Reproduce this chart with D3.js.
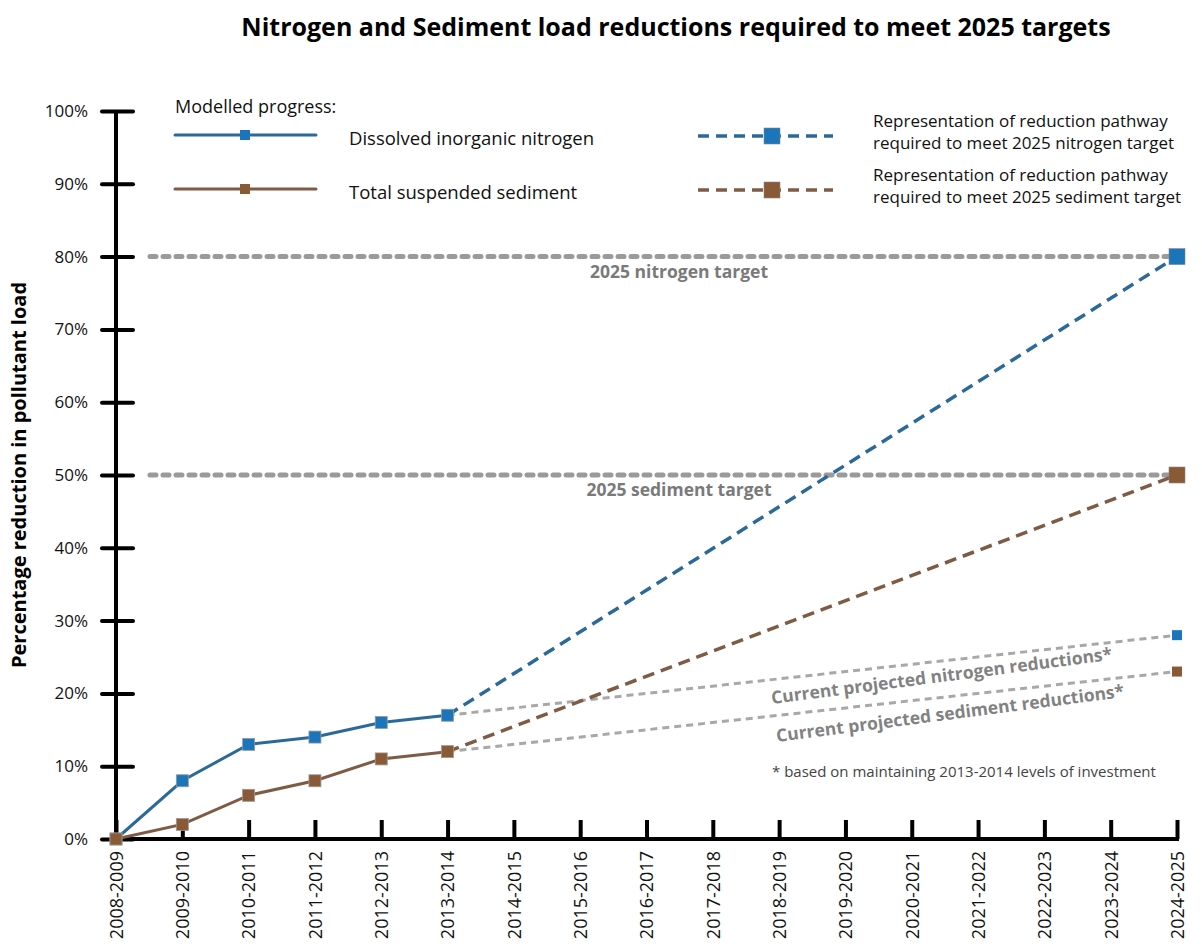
<!DOCTYPE html>
<meta charset="utf-8">
<script src="https://d3js.org/d3.v7.min.js"></script>
<style>
  body { margin: 0; background: #fff; }
  text { font-family: "Open Sans", Lato, sans-serif; }
</style>
<div id="chart"></div>
<script>

// seasons along the x axis
var years = ["2008-2009","2009-2010","2010-2011","2011-2012","2012-2013","2013-2014",
  "2014-2015","2015-2016","2016-2017","2017-2018","2018-2019","2019-2020",
  "2020-2021","2021-2022","2022-2023","2023-2024","2024-2025"];

// modelled progress (% reduction)
var nitrogen = [0, 8, 13, 14, 16, 17];
var sediment = [0, 2, 6, 8, 11, 12];

// 2025 targets and current projections
var nitrogenTarget = 80, sedimentTarget = 50;
var nitrogenProjected = 28, sedimentProjected = 23;

var yTicks = [0,10,20,30,40,50,60,70,80,90,100];

var blue = "#1b75bb", blueLine = "#2b6a98", brown = "#8a5a36", brownLine = "#7e5b44";

var svg = d3.select("#chart").append("svg")
  .attr("width", 1202)
  .attr("height", 952);

var x = d3.scalePoint().domain(years).range([116, 1177]);
var y = d3.scaleLinear().domain([0, 100]).range([839, 111]);

// title
svg.append("text")
  .attr("x", 676).attr("y", 36)
  .attr("text-anchor", "middle")
  .style("font-size", "25px").style("font-weight", "bold")
  .text("Nitrogen and Sediment load reductions required to meet 2025 targets");

// y axis label
svg.append("text")
  .attr("transform", "translate(26," + y(50) + ") rotate(-90)")
  .attr("text-anchor", "middle")
  .style("font-size", "20px").style("font-weight", "bold")
  .text("Percentage reduction in pollutant load");

// target lines
function targetLine(v, label) {
  svg.append("line")
    .attr("x1", 150).attr("x2", x("2024-2025"))
    .attr("y1", y(v)).attr("y2", y(v))
    .style("stroke", "#9a9a9a").style("stroke-width", 5)
    .style("stroke-linecap", "round")
    .style("stroke-dasharray", "6 7");
  svg.append("text")
    .attr("x", 679).attr("y", y(v) + 21)
    .attr("text-anchor", "middle")
    .style("font-size", "17.5px").style("font-weight", "bold").style("fill", "#7a7a7a")
    .text(label);
}
targetLine(nitrogenTarget, "2025 nitrogen target");
targetLine(sedimentTarget, "2025 sediment target");

// axes
var yAxis = svg.append("g")
  .attr("transform", "translate(116,0)")
  .call(d3.axisLeft(y).tickValues(yTicks).tickSizeOuter(0).tickFormat(function(d){ return d + "%"; }));
yAxis.select(".domain").remove();
yAxis.selectAll(".tick line").attr("x1", -14).attr("x2", 17)
  .style("stroke", "#000").style("stroke-width", 4).style("stroke-linecap", "round");
yAxis.selectAll(".tick text").attr("x", -28)
  .style("font-size", "17px").style("font-family", "'Open Sans', sans-serif").style("fill", "#111");
svg.append("line")
  .attr("x1", 116).attr("x2", 116).attr("y1", y(100)).attr("y2", y(0))
  .style("stroke", "#000").style("stroke-width", 4);

var xAxis = svg.append("g")
  .attr("transform", "translate(0," + y(0) + ")")
  .call(d3.axisBottom(x).tickSize(-19).tickSizeOuter(0));
xAxis.select(".domain").remove();
xAxis.selectAll(".tick line").style("stroke", "#000").style("stroke-width", 4);
xAxis.selectAll(".tick text")
  .attr("transform", "rotate(-90)")
  .attr("x", -12).attr("y", 0).attr("dy", "0.35em")
  .attr("text-anchor", "end")
  .style("font-size", "18px").style("font-family", "'Open Sans', sans-serif").style("fill", "#111");
svg.append("line")
  .attr("x1", 114).attr("x2", x("2024-2025") + 2).attr("y1", y(0)).attr("y2", y(0))
  .style("stroke", "#000").style("stroke-width", 4);

var line = d3.line()
  .x(function(d){ return x(d[0]); })
  .y(function(d){ return y(d[1]); });

var last = years[nitrogen.length - 1], end = years[years.length - 1];

// current projections (grey dashed)
[[nitrogen[nitrogen.length - 1], nitrogenProjected, blue],
 [sediment[sediment.length - 1], sedimentProjected, brown]].forEach(function(p) {
  svg.append("path")
    .attr("d", line([[last, p[0]], [end, p[1]]]))
    .style("fill", "none").style("stroke", "#a8a8a8").style("stroke-width", 3)
    .style("stroke-dasharray", "7 5");
  svg.append("rect")
    .attr("x", x(end) - 5).attr("y", y(p[1]) - 5)
    .attr("width", 10).attr("height", 10)
    .style("fill", p[2]);
});

// reduction pathways (coloured dashed)
[[nitrogen[nitrogen.length - 1], nitrogenTarget, blueLine, blue],
 [sediment[sediment.length - 1], sedimentTarget, brownLine, brown]].forEach(function(p) {
  svg.append("path")
    .attr("d", line([[last, p[0]], [end, p[1]]]))
    .style("fill", "none").style("stroke", p[2]).style("stroke-width", 3.5)
    .style("stroke-dasharray", "12 7");
  svg.append("rect")
    .attr("x", x(end) - 8).attr("y", y(p[1]) - 8)
    .attr("width", 16).attr("height", 16)
    .style("fill", p[3]).style("stroke", "#888").style("stroke-width", 0.6);
});

// modelled progress
[[nitrogen, blueLine, blue], [sediment, brownLine, brown]].forEach(function(s) {
  var pts = s[0].map(function(v, i){ return [years[i], v]; });
  svg.append("path")
    .attr("d", line(pts))
    .style("fill", "none").style("stroke", s[1]).style("stroke-width", 3);
  svg.selectAll(null).data(pts).enter().append("rect")
    .attr("x", function(d){ return x(d[0]) - 6; })
    .attr("y", function(d){ return y(d[1]) - 6; })
    .attr("width", 12).attr("height", 12)
    .style("fill", s[2]).style("stroke", "#999").style("stroke-width", 0.8);
});

// projection labels
var ang = -7.4;
svg.append("text")
  .attr("transform", "translate(772,704) rotate(" + ang + ")")
  .style("font-size", "17.5px").style("font-weight", "bold").style("fill", "#828282")
  .text("Current projected nitrogen reductions*");
svg.append("text")
  .attr("transform", "translate(777,742) rotate(" + ang + ")")
  .style("font-size", "17.5px").style("font-weight", "bold").style("fill", "#828282")
  .text("Current projected sediment reductions*");

svg.append("text")
  .attr("x", 772).attr("y", 777)
  .style("font-size", "15px").style("fill", "#444")
  .text("* based on maintaining 2013-2014 levels of investment");

// legend
svg.append("text")
  .attr("x", 175).attr("y", 113)
  .style("font-size", "18px").style("fill", "#111")
  .text("Modelled progress:");

[[135, blueLine, blue, "Dissolved inorganic nitrogen"],
 [189, brownLine, brown, "Total suspended sediment"]].forEach(function(l) {
  svg.append("line")
    .attr("x1", 175).attr("x2", 316).attr("y1", l[0]).attr("y2", l[0])
    .style("stroke", l[1]).style("stroke-width", 3).style("stroke-linecap", "round");
  svg.append("rect")
    .attr("x", 240).attr("y", l[0] - 5).attr("width", 10).attr("height", 10)
    .style("fill", l[2]);
  svg.append("text")
    .attr("x", 349).attr("y", l[0] + 10)
    .style("font-size", "18.5px").style("fill", "#111")
    .text(l[3]);
});

[[136, blueLine, blue, "required to meet 2025 nitrogen target"],
 [190, brownLine, brown, "required to meet 2025 sediment target"]].forEach(function(l) {
  svg.append("line")
    .attr("x1", 698).attr("x2", 833).attr("y1", l[0]).attr("y2", l[0])
    .style("stroke", l[1]).style("stroke-width", 3.5)
    .style("stroke-dasharray", "11 7");
  svg.append("rect")
    .attr("x", 764).attr("y", l[0] - 8).attr("width", 16).attr("height", 16)
    .style("fill", l[2]).style("stroke", "#888").style("stroke-width", 0.6);
  svg.append("text")
    .attr("x", 873).attr("y", l[0] - 9)
    .style("font-size", "17px").style("fill", "#111")
    .text("Representation of reduction pathway");
  svg.append("text")
    .attr("x", 873).attr("y", l[0] + 13)
    .style("font-size", "17px").style("fill", "#111")
    .text(l[3]);
});

</script>
